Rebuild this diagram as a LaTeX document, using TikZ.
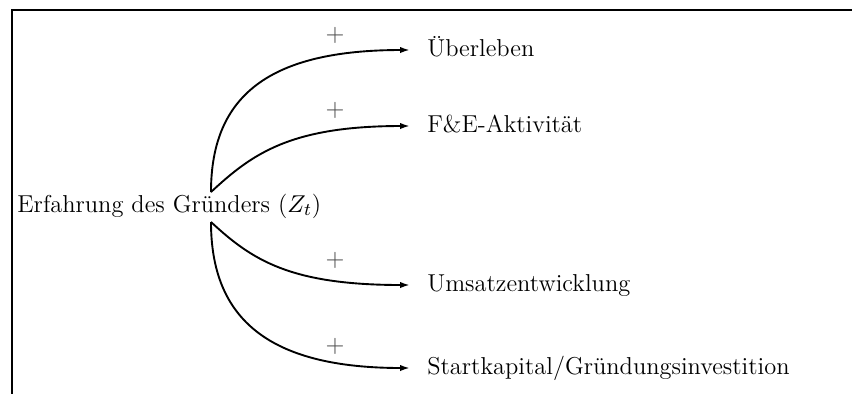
\documentclass[tikz,border=0pt]{standalone}
\usetikzlibrary{arrows.meta}
\begin{document}
\begin{tikzpicture}[x=0.45pt,y=0.45pt,
  every node/.style={font=\fontsize{11}{13.2}\selectfont},
  frame/.style={line width=0.9pt},
  conn/.style={line width=0.85pt,-{Latex[length=4.4pt,width=2.8pt]}},
  target/.style={anchor=west,inner xsep=7.6pt,inner ysep=0pt,text height=1.6ex,text depth=0.25ex},
  sign/.style={inner sep=0pt,text=black!70}]
\useasboundingbox (0,0) rectangle (852,-394);
\draw[frame] (852,-10) -- (12,-10) -- (12,-394);
\node[anchor=west,inner sep=0pt] (src) at (17,-206) {Erfahrung des Gründers ($Z_t$)};
\coordinate (s1) at (211,-192);
\coordinate (s2) at (211,-222);
\node[target] (t1) at (410,-50) {Überleben};
\node[target] (t2) at (410,-126) {F\&E-Aktivität};
\node[target] (t3) at (410,-285) {Umsatzentwicklung};
\node[target] (t4) at (410,-368) {Startkapital/Gründungsinvestition};
\draw[conn] (s1) .. controls (211,-95) and (270,-50) .. (t1.west);
\draw[conn] (s1) .. controls (252,-154) and (290,-126) .. (t2.west);
\draw[conn] (s2) .. controls (252,-260) and (290,-285) .. (t3.west);
\draw[conn] (s2) .. controls (211,-320) and (270,-368) .. (t4.west);
\node[sign] (p1) at (335,-35) {$+$};
\node[sign] (p2) at (335,-110) {$+$};
\node[sign] (p3) at (335,-260) {$+$};
\node[sign] (p4) at (335,-346) {$+$};
\end{tikzpicture}
\end{document}
